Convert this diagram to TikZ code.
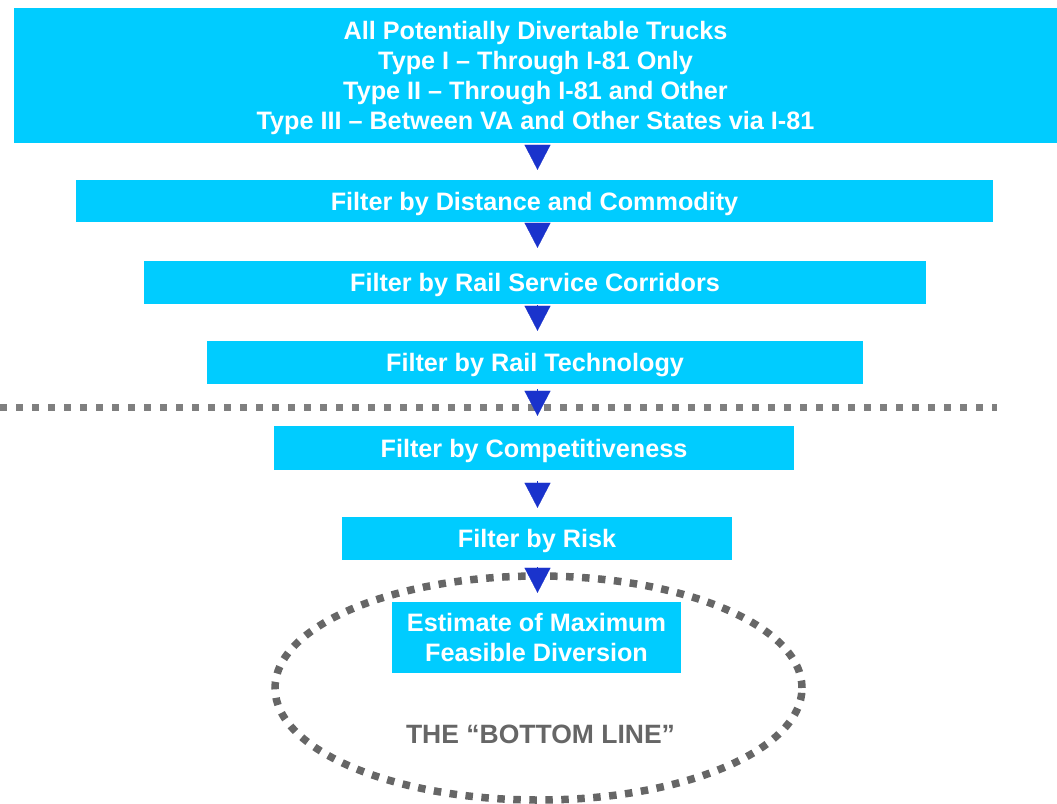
\documentclass[tikz,border=0pt]{standalone}
\usepackage{fontspec}
\setmainfont{Liberation Sans}
\usetikzlibrary{arrows.meta,shapes.geometric}
\definecolor{boxcyan}{HTML}{00CCFF}
\definecolor{arrowblue}{HTML}{1A33CC}
\definecolor{dotgray}{HTML}{7F7F7F}
\definecolor{ellgray}{HTML}{666666}
\begin{document}
\begin{tikzpicture}[x=1pt,y=-1pt,
  box/.style={fill=boxcyan, text=white, font=\fontsize{25.2}{30}\selectfont\bfseries,
    align=center, inner sep=0pt, draw=none, text height=18pt, text depth=0pt},
  flowarrow/.style={draw=arrowblue, fill=arrowblue, line width=0.2pt,
    -{Triangle[length=25pt,width=26pt]}},
  dotline/.style={draw=dotgray, line width=7pt, dash pattern=on 7pt off 9pt},
  dotell/.style={draw=ellgray, line width=7.5pt, dash pattern=on 7.5pt off 8.5pt}]
\useasboundingbox (0,0) rectangle (1057,803);
\coordinate (ax) at (537.5,0);
% boxes
\node[box, minimum width=1043pt, minimum height=135pt, text height=108pt] (b1) at (535.5,75.5)
  {All Potentially Divertable Trucks\\Type I -- Through I-81 Only\\Type II -- Through I-81 and Other\\Type III -- Between VA and Other States via I-81};
\node[box, minimum width=917pt, minimum height=42pt] (b2) at (534.5,201) {Filter by Distance and Commodity};
\node[box, minimum width=782pt, minimum height=43pt] (b3) at (535,282.5) {Filter by Rail Service Corridors};
\node[box, minimum width=656pt, minimum height=43pt] (b4) at (535,362.5) {Filter by Rail Technology};
% dotted divider
\coordinate (dl) at (0,407);
\coordinate (dr) at (997,407);
\draw[dotline] (dl) -- (dr);
\node[box, minimum width=520pt, minimum height=44pt] (b5) at (534,448) {Filter by Competitiveness};
\node[box, minimum width=390pt, minimum height=43pt] (b6) at (537,538.5) {Filter by Risk};
% ellipse
\node[ellipse, dotell, minimum width=527pt, minimum height=224pt, inner sep=0pt] (ell) at (538.5,688) {};
\node[box, minimum width=289pt, minimum height=71pt, text height=48pt] (b7) at (536.5,637.5) {Estimate of Maximum\\Feasible Diversion};
\node[text=ellgray, font=\fontsize{26.5}{30}\selectfont\bfseries, inner sep=0pt,
  text height=19pt, text depth=0pt] (bl) at (540.5,733.5) {THE “BOTTOM LINE”};
% arrows
\draw[flowarrow, shorten <=2pt, shorten >=10pt] (b1.south -| ax) -- (b2.north -| ax);
\draw[flowarrow, shorten <=1pt, shorten >=13pt] (b2.south -| ax) -- (b3.north -| ax);
\draw[flowarrow, shorten <=1pt, shorten >=10pt] (b3.south -| ax) -- (b4.north -| ax);
\draw[flowarrow, shorten <=5pt, shorten >=10pt] (b4.south -| ax) -- (b5.north -| ax);
\draw[flowarrow, shorten <=11pt, shorten >=9pt] (b5.south -| ax) -- (b6.north -| ax);
\draw[flowarrow, shorten <=7pt, shorten >=9pt] (b6.south -| ax) -- (b7.north -| ax);
\end{tikzpicture}
\end{document}
